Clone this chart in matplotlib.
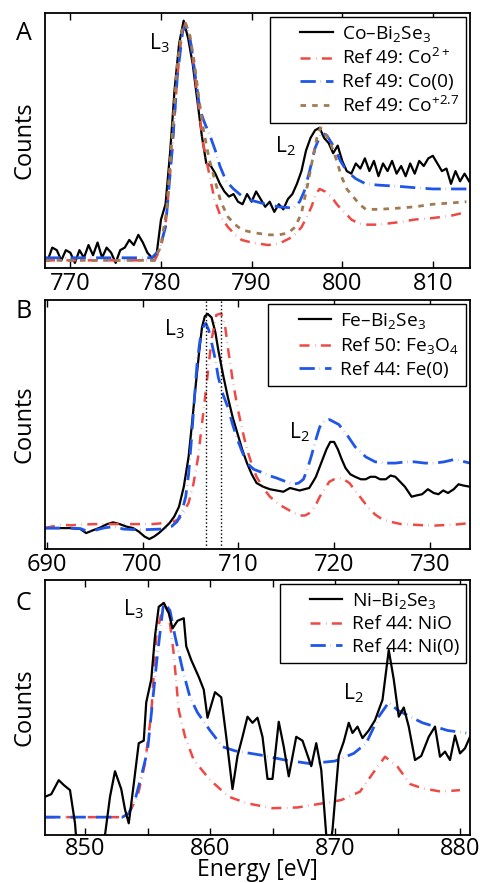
import matplotlib

matplotlib.use("Agg")
import matplotlib.pyplot as plt
from matplotlib.legend_handler import HandlerLine2D
from matplotlib.ticker import MultipleLocator

plt.rcParams["font.family"] = ["Open Sans", "DejaVu Sans"]
plt.rcParams["mathtext.fontset"] = "custom"
plt.rcParams["mathtext.rm"] = "Open Sans"
plt.rcParams["mathtext.it"] = "Open Sans:italic"
plt.rcParams["mathtext.bf"] = "Open Sans:bold"

RED = "#ee4a45"
BLUE = "#2056e8"
BROWN = "#a07a52"

# ---- Co L-edge (panel A), normalised counts ----
co_sample_e = [
    767.5, 768.0, 768.5, 769.0, 769.5, 770.0, 770.5, 771.0, 771.5, 772.0,
    772.5, 773.0, 773.5, 774.0, 774.5, 775.0, 775.5, 776.0, 776.5, 777.0,
    777.5, 778.0, 778.5, 779.0, 779.5, 780.0, 780.5, 781.0, 781.5, 782.0,
    782.5, 783.0, 783.5, 784.0, 784.5, 785.0, 785.5, 786.0, 786.5, 787.0,
    787.5, 788.0, 788.5, 789.0, 789.5, 790.0, 790.5, 791.0, 791.5, 792.0,
    792.5, 793.0, 793.5, 794.0, 794.5, 795.0, 795.5, 796.0, 796.5, 797.0,
    797.5, 798.0, 798.5, 799.0, 799.5, 800.0, 800.5, 801.0, 801.5, 802.0,
    802.5, 803.0, 803.5, 804.0, 804.5, 805.0, 805.5, 806.0, 806.5, 807.0,
    807.5, 808.0, 808.5, 809.0, 809.5, 810.0, 810.5, 811.0, 811.5, 812.0,
    812.5, 813.0, 813.5, 814.0,
]
co_sample_y = [
    0.03, 0.08, 0.07, 0.03, 0.07, 0.06, 0.02, 0.07, 0.04, 0.09,
    0.05, 0.10, 0.04, 0.08, 0.06, 0.02, 0.07, 0.08, 0.11, 0.09,
    0.13, 0.10, 0.06, 0.04, 0.05, 0.19, 0.25, 0.45, 0.70, 0.88,
    0.97, 0.90, 0.80, 0.66, 0.52, 0.41, 0.40, 0.37, 0.33, 0.30,
    0.28, 0.29, 0.26, 0.25, 0.29, 0.26, 0.30, 0.27, 0.24, 0.26,
    0.22, 0.25, 0.23, 0.27, 0.29, 0.33, 0.38, 0.46, 0.51, 0.54,
    0.55, 0.51, 0.49, 0.45, 0.48, 0.42, 0.38, 0.37, 0.41, 0.39,
    0.43, 0.38, 0.42, 0.36, 0.41, 0.38, 0.42, 0.37, 0.40, 0.36,
    0.41, 0.37, 0.42, 0.40, 0.43, 0.44, 0.41, 0.38, 0.39, 0.33,
    0.38, 0.34, 0.37, 0.34,
]

co2_e = [767.2, 779.3, 780.0, 780.6, 781.2, 781.8, 782.3, 782.7, 783.2, 783.7,
         784.2, 784.6, 785.2, 785.9, 786.6, 787.4, 788.2, 788.9, 790.0, 791.8,
         793.0, 794.4, 795.0, 795.5, 796.1, 796.6, 797.1, 797.5, 798.1, 798.8,
         799.4, 799.9, 800.5, 801.0, 801.8, 802.6, 804.0, 806.3, 808.0, 810.0,
         812.0, 813.2]
co2_y = [0.03, 0.03, 0.08, 0.20, 0.45, 0.75, 0.92, 0.96, 0.90, 0.77,
         0.62, 0.50, 0.39, 0.27, 0.20, 0.16, 0.13, 0.11, 0.10, 0.09,
         0.095, 0.12, 0.14, 0.16, 0.20, 0.24, 0.29, 0.31, 0.30, 0.28,
         0.25, 0.23, 0.21, 0.19, 0.175, 0.17, 0.17, 0.18, 0.19, 0.196,
         0.205, 0.215]

co0_e = [767.2, 779.0, 779.8, 780.5, 781.2, 781.8, 782.4, 782.8, 783.3, 783.8,
         784.3, 784.8, 785.4, 786.0, 786.5, 787.2, 788.0, 789.0, 790.0, 791.6,
         793.0, 794.6, 795.3, 795.8, 796.4, 797.0, 797.7, 798.3, 799.0, 799.8,
         800.5, 801.5, 802.6, 804.0, 806.3, 808.0, 810.0, 812.0, 814.2]
co0_y = [0.04, 0.04, 0.07, 0.16, 0.45, 0.75, 0.93, 0.95, 0.88, 0.75,
         0.62, 0.57, 0.52, 0.46, 0.40, 0.34, 0.31, 0.28, 0.265, 0.25,
         0.24, 0.235, 0.26, 0.30, 0.38, 0.47, 0.53, 0.52, 0.48, 0.42,
         0.38, 0.35, 0.33, 0.325, 0.32, 0.315, 0.31, 0.31, 0.31]

co27_e = [767.2, 779.3, 780.0, 780.6, 781.2, 781.8, 782.3, 782.7, 783.2, 783.7,
          784.2, 784.7, 785.3, 785.9, 786.6, 787.4, 788.2, 788.9, 790.0, 791.8,
          793.0, 794.0, 794.8, 795.5, 796.2, 796.8, 797.2, 797.6, 798.1, 798.8,
          799.4, 799.9, 800.5, 801.2, 801.9, 802.6, 804.0, 806.3, 808.0, 810.0,
          812.0, 813.7]
co27_y = [0.03, 0.03, 0.09, 0.22, 0.50, 0.80, 0.93, 0.96, 0.91, 0.80,
          0.66, 0.54, 0.43, 0.35, 0.26, 0.20, 0.17, 0.15, 0.14, 0.13,
          0.13, 0.137, 0.16, 0.215, 0.33, 0.44, 0.51, 0.55, 0.53, 0.48,
          0.42, 0.36, 0.31, 0.28, 0.25, 0.23, 0.23, 0.235, 0.24, 0.25,
          0.255, 0.26]

# ---- Fe L-edge (panel B) ----
fe_sample_e = [
    689.8, 691.0, 692.5, 693.5, 694.1, 694.8, 695.5, 696.3, 696.9, 697.6,
    698.3, 699.0, 699.6, 700.2, 700.7, 701.2, 701.7, 702.3, 702.8, 703.3,
    703.8, 704.3, 704.8, 705.2, 705.5, 705.9, 706.2, 706.5, 706.8, 707.2,
    707.6, 707.9, 708.4, 708.9, 709.4, 709.9, 710.4, 710.9, 711.4, 711.9,
    712.6, 713.3, 714.0, 714.7, 715.4, 715.9, 716.4, 716.9, 717.4, 717.8,
    718.1, 718.7, 719.2, 719.6, 720.0, 720.4, 720.8, 721.2, 721.7, 722.2,
    722.8, 723.3, 723.8, 724.3, 724.8, 725.4, 725.9, 726.4, 726.9, 727.4,
    728.1, 728.6, 729.2, 729.8, 730.4, 730.9, 731.4, 731.9, 732.5, 733.0,
    733.5, 734.2,
]
fe_sample_y = [
    0.084, 0.084, 0.084, 0.08, 0.064, 0.075, 0.085, 0.10, 0.107, 0.10,
    0.09, 0.084, 0.07, 0.05, 0.04, 0.05, 0.064, 0.085, 0.104, 0.13,
    0.17, 0.25, 0.37, 0.52, 0.64, 0.79, 0.89, 0.935, 0.944, 0.93,
    0.87, 0.80, 0.70, 0.61, 0.53, 0.465, 0.40, 0.345, 0.30, 0.265,
    0.25, 0.24, 0.235, 0.23, 0.245, 0.24, 0.235, 0.24, 0.245, 0.27,
    0.29, 0.35, 0.40, 0.43, 0.43, 0.40, 0.36, 0.325, 0.30, 0.29,
    0.28, 0.28, 0.29, 0.29, 0.28, 0.28, 0.295, 0.29, 0.27, 0.25,
    0.21, 0.215, 0.22, 0.24, 0.225, 0.22, 0.235, 0.225, 0.24, 0.26,
    0.255, 0.25,
]

fe3o4_e = [689.8, 690.5, 691.5, 692.5, 693.5, 695.0, 697.0, 699.0, 701.0, 702.5,
           703.2, 703.8, 704.3, 704.8, 705.3, 705.8, 706.1, 706.5, 706.9, 707.2,
           707.7, 708.2, 708.6, 708.9, 709.4, 709.9, 710.4, 710.9, 711.4, 711.9,
           712.6, 713.3, 714.2, 715.1, 715.8, 716.4, 717.0, 717.4, 718.0, 718.5,
           719.0, 719.5, 720.0, 720.5, 721.0, 721.6, 722.2, 722.9, 723.6, 724.3,
           725.0, 725.7, 727.0, 728.1, 729.5, 730.5, 731.5, 732.6, 734.2]
fe3o4_y = [0.084, 0.09, 0.098, 0.095, 0.098, 0.10, 0.10, 0.10, 0.10, 0.105,
           0.11, 0.12, 0.15, 0.185, 0.26, 0.37, 0.47, 0.60, 0.74, 0.84,
           0.94, 0.946, 0.90, 0.81, 0.68, 0.57, 0.48, 0.40, 0.34, 0.29,
           0.245, 0.21, 0.18, 0.16, 0.145, 0.134, 0.135, 0.144, 0.17, 0.21,
           0.24, 0.27, 0.28, 0.285, 0.28, 0.265, 0.235, 0.20, 0.165, 0.138,
           0.12, 0.111, 0.10, 0.098, 0.095, 0.094, 0.096, 0.098, 0.104]

fe0_e = [689.8, 692.0, 693.5, 694.3, 695.0, 696.0, 697.0, 698.0, 699.0, 700.5,
         702.0, 703.0, 703.6, 704.1, 704.5, 704.8, 705.1, 705.4, 705.7, 706.0,
         706.3, 706.6, 706.9, 707.2, 707.6, 707.9, 708.4, 708.9, 709.4, 709.9,
         710.4, 710.9, 711.6, 712.3, 713.2, 714.0, 715.0, 715.8, 716.3, 716.8,
         717.2, 717.6, 718.1, 718.5, 719.0, 719.5, 720.0, 720.5, 720.9, 721.5,
         722.2, 722.8, 723.3, 724.3, 725.5, 726.4, 727.5, 728.4, 729.5, 730.5,
         731.5, 732.6, 734.2]
fe0_y = [0.084, 0.084, 0.082, 0.07, 0.075, 0.085, 0.09, 0.08, 0.078, 0.078,
         0.08, 0.09, 0.11, 0.15, 0.21, 0.30, 0.44, 0.60, 0.75, 0.84,
         0.89, 0.906, 0.88, 0.83, 0.76, 0.69, 0.62, 0.57, 0.50, 0.44,
         0.39, 0.345, 0.32, 0.31, 0.295, 0.285, 0.27, 0.26, 0.265, 0.28,
         0.32, 0.37, 0.44, 0.49, 0.515, 0.52, 0.51, 0.50, 0.48, 0.45,
         0.41, 0.39, 0.37, 0.35, 0.345, 0.345, 0.35, 0.35, 0.345, 0.345,
         0.35, 0.36, 0.345]

# peak positions of the sample and Fe3O4 L3 lines
fe_l3_marks = [706.6, 708.2]

# ---- Ni L-edge (panel C) ----
ni_sample_e = [
    846.8, 847.3, 847.9, 848.3, 848.8, 849.2, 849.6, 850.5, 851.3, 851.6,
    852.0, 852.4, 852.9, 853.2, 853.5, 853.9, 854.3, 854.7, 854.9, 855.3,
    855.6, 855.9, 856.3, 856.7, 857.0, 857.4, 857.9, 858.1, 858.5, 859.1,
    859.5, 859.8, 860.4, 860.9, 861.3, 861.8, 862.2, 862.6, 863.0, 863.4,
    863.8, 864.2, 864.6, 865.0, 865.5, 865.9, 866.3, 866.9, 867.4, 868.1,
    868.5, 868.9, 869.3, 869.5, 869.8, 870.3, 870.7, 871.1, 871.4, 871.8,
    872.2, 872.7, 873.2, 873.8, 874.3, 874.7, 875.1, 875.5, 875.9, 876.4,
    876.9, 877.5, 878.0, 878.4, 878.8, 879.2, 879.6, 880.0, 880.4, 880.8,
]
ni_sample_y = [
    0.15, 0.16, 0.215, 0.196, 0.176, 0.046, -0.2, -0.35, -0.2, 0.0,
    0.15, 0.25, 0.18, 0.10, 0.046, 0.2, 0.36, 0.37, 0.52, 0.61,
    0.78, 0.895, 0.91, 0.87, 0.81, 0.84, 0.85, 0.74, 0.686, 0.62,
    0.57, 0.46, 0.56, 0.54, 0.385, 0.18, 0.31, 0.385, 0.464, 0.44,
    0.46, 0.385, 0.22, 0.22, 0.444, 0.346, 0.23, 0.385, 0.37, 0.27,
    0.36, 0.255, 0.0, -0.08, 0.02, 0.31, 0.366, 0.44, 0.40, 0.425,
    0.38, 0.41, 0.45, 0.53, 0.725, 0.61, 0.464, 0.50, 0.425, 0.294,
    0.31, 0.385, 0.425, 0.307, 0.327, 0.294, 0.39, 0.32, 0.34, 0.385,
]

nio_e = [846.8, 853.0, 853.5, 854.2, 854.8, 855.3, 855.7, 856.3, 856.7, 857.1,
         857.5, 858.0, 858.7, 860.0, 861.5, 863.0, 865.0, 867.0, 869.0, 870.5,
         872.0, 873.0, 874.0, 875.0, 876.0, 877.0, 878.5, 880.0]
nio_y = [0.07, 0.07, 0.085, 0.15, 0.28, 0.477, 0.78, 0.91, 0.87, 0.71,
         0.49, 0.386, 0.294, 0.216, 0.15, 0.124, 0.105, 0.108, 0.124, 0.137,
         0.17, 0.24, 0.307, 0.268, 0.20, 0.183, 0.17, 0.176]

ni0_e = [846.8, 853.0, 853.5, 854.0, 854.5, 855.0, 855.4, 855.8, 856.3, 856.8,
         857.2, 857.8, 858.4, 859.0, 860.0, 861.0, 862.0, 864.0, 866.0, 868.0,
         870.0, 871.5, 872.5, 873.5, 874.3, 875.0, 876.0, 877.0, 878.0, 879.0,
         880.5]
ni0_y = [0.07, 0.07, 0.085, 0.137, 0.23, 0.33, 0.52, 0.71, 0.915, 0.88,
         0.78, 0.65, 0.54, 0.48, 0.41, 0.346, 0.33, 0.314, 0.294, 0.28,
         0.29, 0.32, 0.36, 0.464, 0.52, 0.49, 0.464, 0.44, 0.425, 0.41,
         0.40]

SAMPLE = dict(color="k", lw=1.6)
RED_REF = dict(color=RED, lw=1.8, dashes=[4.0, 2.2, 0.15, 2.2])
BLUE_REF = dict(color=BLUE, lw=2.0, dashes=[5.5, 1.8, 0.1, 1.8])
BROWN_REF = dict(color=BROWN, lw=2.0, dashes=[2.0, 2.2])

FIG_W, FIG_H = 481, 883
LEFT, RIGHT = 45, 470


class ShortHandle(HandlerLine2D):
    """Legend sample drawn only over the right part of the handle box."""

    def get_xdata(self, legend, xdescent, ydescent, width, height, fontsize):
        x0 = -xdescent + 0.42 * width
        x1 = -xdescent + width
        return [x0, x1], [0.5 * (x0 + x1)]


def make_axes(fig, top, bottom):
    """Axes placed by pixel edges of the 481x883 canvas."""
    return fig.add_axes([LEFT / FIG_W, 1 - bottom / FIG_H,
                         (RIGHT - LEFT) / FIG_W, (bottom - top) / FIG_H])


def style_axes(ax, xlim, xticks, pad=3):
    ax.set_xlim(xlim)
    ax.set_ylim(0, 1)
    ax.set_xticks(xticks)
    ax.set_yticks([])
    ax.tick_params(axis="x", which="both", direction="in", top=True,
                   length=5, width=1, labelsize=17, pad=pad)
    for s in ax.spines.values():
        s.set_linewidth(1.3)
    ax.set_ylabel("Counts", fontsize=17, labelpad=6)


def add_legend(ax):
    handles, labels = ax.get_legend_handles_labels()
    leg = ax.legend(handles, labels, loc="upper right", fontsize=13.8,
                    fancybox=False, edgecolor="k", framealpha=1,
                    borderaxespad=0.2, handlelength=2.9, handletextpad=0.5,
                    labelspacing=0.25, borderpad=0.35,
                    handler_map={h: ShortHandle() for h in handles})
    leg.get_frame().set_linewidth(1.0)
    return leg


fig = plt.figure(figsize=(FIG_W / 100, FIG_H / 100), dpi=100)

# --- (A) Co ---
ax = make_axes(fig, 13, 268)
ax.plot(co_sample_e, co_sample_y, label="Co–Bi$\\mathregular{_2}$Se$\\mathregular{_3}$", **SAMPLE)
ax.plot(co2_e, co2_y, label="Ref 49: Co$^{\\mathregular{2+}}$", **RED_REF)
ax.plot(co0_e, co0_y, label="Ref 49: Co(0)", **BLUE_REF)
ax.plot(co27_e, co27_y, label="Ref 49: Co$^{\\mathregular{+2.7}}$", **BROWN_REF)
style_axes(ax, (767.2, 814.1), [770, 780, 790, 800, 810])
add_legend(ax)
ax.text(779.8, 0.883, "L$\\mathregular{_3}$", fontsize=15, ha="center", va="center")
ax.text(793.7, 0.476, "L$\\mathregular{_2}$", fontsize=15, ha="center", va="center")

# --- (B) Fe ---
ax = make_axes(fig, 300, 549)
ax.plot(fe_sample_e, fe_sample_y, label="Fe–Bi$\\mathregular{_2}$Se$\\mathregular{_3}$", **SAMPLE)
ax.plot(fe3o4_e, fe3o4_y, label="Ref 50: Fe$\\mathregular{_3}$O$\\mathregular{_4}$", **RED_REF)
ax.plot(fe0_e, fe0_y, label="Ref 44: Fe(0)", **BLUE_REF)
for e in fe_l3_marks:
    ax.axvline(e, color="k", lw=1.0, ls=":")
style_axes(ax, (689.8, 734.2), [690, 700, 710, 720, 730])
add_legend(ax)
ax.text(703.35, 0.882, "L$\\mathregular{_3}$", fontsize=15, ha="center", va="center")
ax.text(716.35, 0.471, "L$\\mathregular{_2}$", fontsize=15, ha="center", va="center")

# --- (C) Ni ---
ax = make_axes(fig, 580, 835)
ax.plot(ni_sample_e, ni_sample_y, label="Ni–Bi$\\mathregular{_2}$Se$\\mathregular{_3}$",
        zorder=6, **SAMPLE)
ax.plot(nio_e, nio_y, label="Ref 44: NiO", **RED_REF)
ax.plot(ni0_e, ni0_y, label="Ref 44: Ni(0)", **BLUE_REF)
style_axes(ax, (846.8, 880.8), [850, 860, 870, 880], pad=1.5)
ax.xaxis.set_minor_locator(MultipleLocator(5))
add_legend(ax)
ax.text(853.9, 0.885, "L$\\mathregular{_3}$", fontsize=15, ha="center", va="center")
ax.text(871.5, 0.558, "L$\\mathregular{_2}$", fontsize=15, ha="center", va="center")
ax.set_xlabel("Energy [eV]", fontsize=16.5, labelpad=-2)

# panel letters
for letter, (px, py) in zip("ABC", [(24, 34), (24, 312), (23, 604)]):
    fig.text(px / FIG_W, 1 - py / FIG_H, letter, fontsize=18, ha="center", va="center")

fig.savefig("out.png", dpi=100)
plt.close(fig)
